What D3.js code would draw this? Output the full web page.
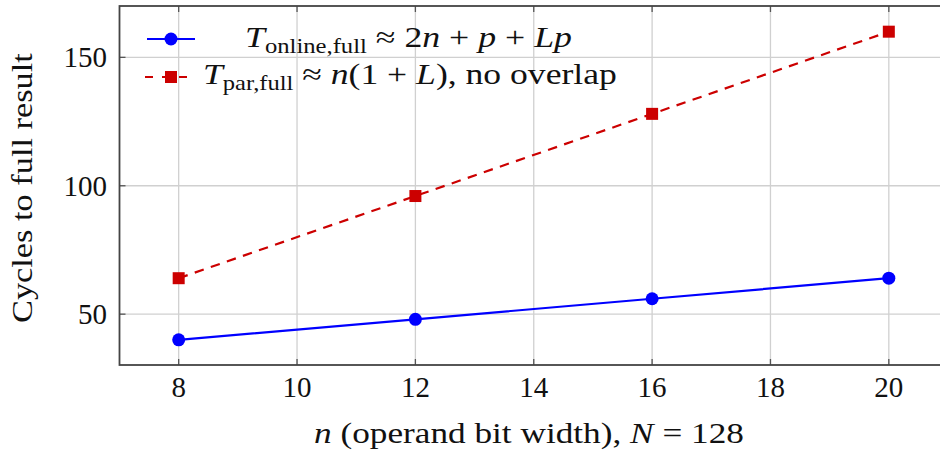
<!DOCTYPE html>
<html><head><meta charset="utf-8">
<script src="https://cdn.jsdelivr.net/npm/d3@7"></script>
<style>
body{margin:0;background:#fff;}
text{font-family:"Liberation Serif","DejaVu Serif",serif;fill:#111;}
</style></head>
<body><svg id="c" width="940" height="452"></svg>
<script>
const nValues = [8, 12, 16, 20];
const onlineCycles = [40, 48, 56, 64];
const parCycles = [64, 96, 128, 160];
const xTicks = [8, 10, 12, 14, 16, 18, 20];
const yTicks = [50, 100, 150];

const svg = d3.select("#c");
const L = 119.5, R = 948, T = 6, B = 365;
const x = d3.scaleLinear().domain([7, 21]).range([L, R]);
const y = d3.scaleLinear().domain([30.2, 170]).range([B, T]);

const blue = "#0000ff", red = "#cc0000";
const FS = 29;

// stretch a text horizontally so it spans [x0, x1]
function fit(sel, x0, x1) {
  sel.attr("text-anchor", "start").attr("x", x0);
  const w = sel.node().getBBox().width;
  const s = (x1 - x0) / w;
  sel.attr("transform", `translate(${x0},0) scale(${s},1) translate(${-x0},0)`);
}

// grid
const g = svg.append("g");
g.selectAll(".gx").data(xTicks).enter().append("line")
  .attr("x1", d => x(d)).attr("x2", d => x(d)).attr("y1", T).attr("y2", B)
  .attr("stroke", "#d0d0d0").attr("stroke-width", 1.3);
g.selectAll(".gy").data(yTicks).enter().append("line")
  .attr("y1", d => y(d)).attr("y2", d => y(d)).attr("x1", L).attr("x2", R)
  .attr("stroke", "#d0d0d0").attr("stroke-width", 1.3);

// tick marks inside
const tk = 6;
xTicks.forEach(d => {
  g.append("line").attr("x1", x(d)).attr("x2", x(d)).attr("y1", B).attr("y2", B - tk).attr("stroke", "#555").attr("stroke-width", 1.3);
  g.append("line").attr("x1", x(d)).attr("x2", x(d)).attr("y1", T).attr("y2", T + tk).attr("stroke", "#555").attr("stroke-width", 1.3);
});
yTicks.forEach(d => {
  g.append("line").attr("y1", y(d)).attr("y2", y(d)).attr("x1", L).attr("x2", L + tk).attr("stroke", "#555").attr("stroke-width", 1.3);
  g.append("line").attr("y1", y(d)).attr("y2", y(d)).attr("x1", R).attr("x2", R - tk).attr("stroke", "#555").attr("stroke-width", 1.3);
});

// frame
svg.append("rect").attr("x", L).attr("y", T).attr("width", R - L).attr("height", B - T)
  .attr("fill", "none").attr("stroke", "#444").attr("stroke-width", 1.8);

// tick labels
svg.selectAll(".xl").data(xTicks).enter().append("text")
  .attr("x", d => x(d)).attr("y", 397).attr("text-anchor", "middle")
  .attr("font-size", FS).text(d => d);
svg.selectAll(".yl").data(yTicks).enter().append("text")
  .attr("x", 107).attr("y", d => y(d) + 10).attr("text-anchor", "end")
  .attr("font-size", FS).text(d => d);

// axis labels
const xl = svg.append("text").attr("y", 443).attr("font-size", FS);
xl.append("tspan").attr("font-style", "italic").text("n");
xl.append("tspan").text(" (operand bit width), ");
xl.append("tspan").attr("font-style", "italic").text("N");
xl.append("tspan").text(" = 128");
fit(xl, 314, 744);

const ylg = svg.append("g").attr("transform", "translate(32,323) rotate(-90)");
const yl = ylg.append("text").attr("y", 0).attr("font-size", FS).text("Cycles to full result");
fit(yl, 0, 270);

// lines
const line = d3.line().x(d => x(d[0])).y(d => y(d[1]));
const onl = nValues.map((n, i) => [n, onlineCycles[i]]);
const par = nValues.map((n, i) => [n, parCycles[i]]);

svg.append("path").datum(onl).attr("d", line).attr("fill", "none").attr("stroke", blue).attr("stroke-width", 2.2);
svg.append("path").datum(par).attr("d", line).attr("fill", "none").attr("stroke", red).attr("stroke-width", 2.2).attr("stroke-dasharray", "9.5,7.5");

svg.selectAll(".mo").data(onl).enter().append("circle")
  .attr("cx", d => x(d[0])).attr("cy", d => y(d[1])).attr("r", 6.5).attr("fill", blue);
svg.selectAll(".mp").data(par).enter().append("rect")
  .attr("x", d => x(d[0]) - 6).attr("y", d => y(d[1]) - 6).attr("width", 12).attr("height", 12).attr("fill", red);

// legend
const ly1 = 39, ly2 = 77;
svg.append("line").attr("x1", 147).attr("x2", 195).attr("y1", ly1).attr("y2", ly1).attr("stroke", blue).attr("stroke-width", 2.2);
svg.append("circle").attr("cx", 171).attr("cy", ly1).attr("r", 6.5).attr("fill", blue);
svg.append("line").attr("x1", 145).attr("x2", 195).attr("y1", ly2).attr("y2", ly2).attr("stroke", red).attr("stroke-width", 2.2).attr("stroke-dasharray", "8,9");
svg.append("rect").attr("x", 165).attr("y", ly2 - 6).attr("width", 12).attr("height", 12).attr("fill", red);

const SUB = 20;
const t1 = svg.append("text").attr("y", 47).attr("font-size", FS);
t1.append("tspan").attr("font-style", "italic").text("T");
t1.append("tspan").attr("font-size", SUB).attr("dy", 6).text("online,full");
t1.append("tspan").attr("dy", -6).text(" ≈ 2");
t1.append("tspan").attr("font-style", "italic").text("n");
t1.append("tspan").text(" + ");
t1.append("tspan").attr("font-style", "italic").text("p");
t1.append("tspan").text(" + ");
t1.append("tspan").attr("font-style", "italic").text("Lp");
fit(t1, 245, 572);

const t2 = svg.append("text").attr("y", 84).attr("font-size", FS);
t2.append("tspan").attr("font-style", "italic").text("T");
t2.append("tspan").attr("font-size", SUB).attr("dy", 6).text("par,full");
t2.append("tspan").attr("dy", -6).text(" ≈ ");
t2.append("tspan").attr("font-style", "italic").text("n");
t2.append("tspan").text("(1 + ");
t2.append("tspan").attr("font-style", "italic").text("L");
t2.append("tspan").text("), no overlap");
fit(t2, 203, 617);
</script></body></html>
